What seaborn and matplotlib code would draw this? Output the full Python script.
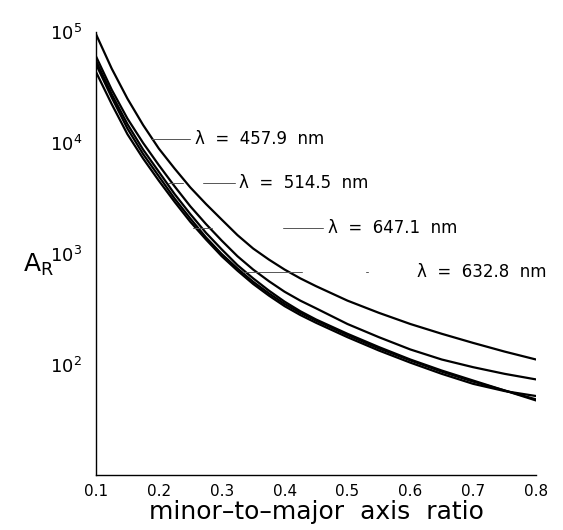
import numpy as np
import pandas as pd
import matplotlib
matplotlib.use("Agg")
import matplotlib.pyplot as plt
import seaborn as sns

# ---- data ----
ratio = [0.1, 0.125, 0.15, 0.175, 0.2, 0.225, 0.25, 0.275, 0.3, 0.325, 0.35, 0.375,
         0.4, 0.425, 0.45, 0.5, 0.55, 0.6, 0.65, 0.7, 0.75, 0.8]
A_457_9 = [95500, 46800, 25100, 14500, 8900, 5890, 3980, 2820, 2040, 1480, 1120, 891,
           724, 603, 513, 380, 295, 234, 191, 158, 132, 112]
A_514_5 = [60300, 30200, 16600, 10000, 6310, 4070, 2690, 1860, 1320, 955, 724, 569,
           457, 380, 324, 234, 178, 138, 112, 95.5, 83.2, 74.1]
A_extra = [55000, 27500, 14800, 8710, 5500, 3470, 2290, 1550, 1100, 794, 603, 468,
           372, 305, 257, 191, 145, 112, 89.1, 72.4, 58.9, 49.0]
A_647_1 = [51300, 25700, 13500, 7940, 5010, 3160, 2090, 1410, 1000, 741, 562, 442,
           355, 295, 251, 186, 141, 110, 87.1, 70.8, 58.9, 47.9]
A_632_8 = [43600, 22400, 12000, 7240, 4570, 2950, 1950, 1350, 955, 708, 537, 422,
           339, 282, 240, 178, 135, 105, 83.2, 67.6, 58.2, 52.5]

series_names = ["457.9", "514.5", "extra", "647.1", "632.8"]
series_vals = [A_457_9, A_514_5, A_extra, A_647_1, A_632_8]

label_texts = ["λ  =  457.9  nm", "λ  =  514.5  nm", "λ  =  647.1  nm", "λ  =  632.8  nm"]
label_x = [0.2575, 0.3275, 0.469, 0.6107]
label_y = [10870, 4365, 1714, 689]
leader_segs = [
    [(0.1875, 0.2495)],
    [(0.2145, 0.2384), (0.270, 0.321)],
    [(0.254, 0.2845), (0.3975, 0.461)],
    [(0.334, 0.428), (0.529, 0.533)],
]

xticks = [0.1, 0.2, 0.3, 0.4, 0.5, 0.6, 0.7, 0.8]
yticks = [1e2, 1e3, 1e4, 1e5]
ytick_labels = [r"$\mathregular{10^{2}}$", r"$\mathregular{10^{3}}$",
                r"$\mathregular{10^{4}}$", r"$\mathregular{10^{5}}$"]

df = pd.DataFrame({
    "ratio": np.tile(ratio, len(series_names)),
    "A": np.concatenate(series_vals),
    "series": np.repeat(series_names, len(ratio)),
})

sns.set_style("white")
plt.rcParams["font.family"] = ["DejaVu Sans"]
for k in ["text.color", "axes.labelcolor", "xtick.color", "ytick.color"]:
    plt.rcParams[k] = "black"

fig = plt.figure(figsize=(5.63, 5.30), dpi=100)
ax = fig.add_axes([96 / 563, 1 - 475 / 530, 440 / 563, 443 / 530])

sns.lineplot(data=df, x="ratio", y="A", hue="series",
             palette=["black"] * len(series_names), estimator=None,
             linewidth=1.6, legend=False, ax=ax, sort=False)

ax.set_yscale("log")
ax.set_xlim(0.1, 0.8)
ax.set_ylim(10.2, 1e5)

for txt, lx, ly, segs in zip(label_texts, label_x, label_y, leader_segs):
    for (a, b) in segs:
        ax.plot([a, b], [ly, ly], color="#555555", lw=0.7)
    ax.text(lx, ly, txt, fontsize=12, va="center", ha="left", color="black")

ax.set_xticks(xticks)
ax.set_xticklabels([f"{t:.1f}" for t in xticks], fontsize=11)
ax.set_yticks(yticks)
ax.set_yticklabels(ytick_labels, fontsize=13)
ax.yaxis.set_minor_locator(matplotlib.ticker.NullLocator())
ax.tick_params(axis="x", direction="inout", length=7, width=1, pad=3, color="black")
ax.tick_params(axis="y", direction="out", length=6, width=1, pad=4, color="black")

for s in ["top", "right"]:
    ax.spines[s].set_visible(False)
for s in ["left", "bottom"]:
    ax.spines[s].set_color("black")
    ax.spines[s].set_linewidth(1.0)

ax.set_xlabel("minor–to–major  axis  ratio", fontsize=18, labelpad=1)
ax.set_ylabel(r"$\mathregular{A_R}$", fontsize=18, rotation=0, va="center", ha="center")
ax.yaxis.set_label_coords(-0.13, 0.475)

fig.savefig("out.png", dpi=100, facecolor="white")
